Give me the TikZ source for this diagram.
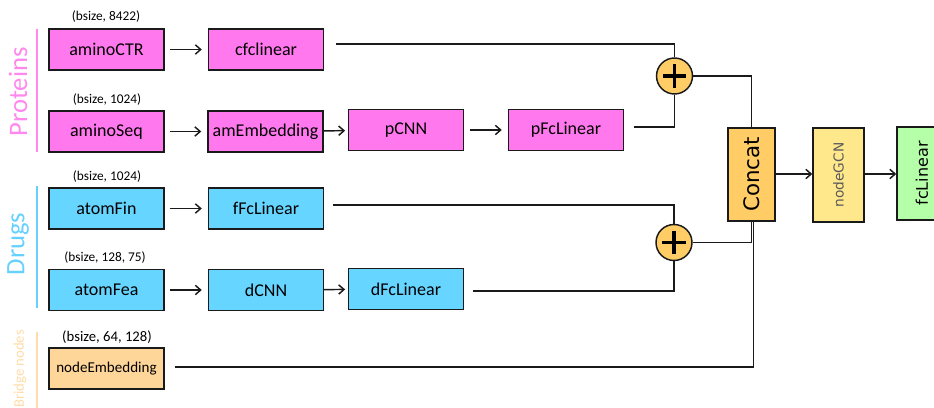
\documentclass[tikz,border=0pt]{standalone}
\usepackage{fontspec}
\setmainfont{Carlito}
\newfontfamily\dejavu{DejaVu Sans}
\usetikzlibrary{calc,arrows.meta}
\definecolor{pinkbox}{HTML}{FF78EE}
\definecolor{bluebox}{HTML}{66D5FF}
\definecolor{embbox}{HTML}{FFD699}
\definecolor{concatc}{HTML}{FFCC66}
\definecolor{gcnc}{HTML}{FFE88C}
\definecolor{fcc}{HTML}{B5FFA8}
\definecolor{protc}{HTML}{FF88EE}
\definecolor{drugc}{HTML}{66D0FF}
\definecolor{bridgec}{HTML}{FFDCA8}
\definecolor{edgec}{HTML}{1A1A1A}
\tikzset{
  box/.style={draw=edgec, line width=1.1pt, minimum width=86.25pt, minimum height=30.75pt, inner sep=0pt, font=\fontsize{13.5}{15}\selectfont},
  pbox/.style={box, fill=pinkbox},
  bbox/.style={box, fill=bluebox},
  shape lbl/.style={font=\fontsize{10}{12}\selectfont, inner sep=0pt},
  conn/.style={draw=edgec, line width=1.1pt},
  arr/.style={conn, -{Straight Barb[length=4pt,width=7pt,line width=1.1pt]}},
  plusc/.style={circle, draw=edgec, line width=1.1pt, fill=concatc, minimum size=27pt, inner sep=0pt,
    path picture={\draw[line width=2.6pt, black] ($(path picture bounding box.center)+(-8.7pt,0)$) -- ($(path picture bounding box.center)+(8.7pt,0)$);
                  \draw[line width=2.6pt, black] ($(path picture bounding box.center)+(0,-8.7pt)$) -- ($(path picture bounding box.center)+(0,8.7pt)$);}},
  sidelbl/.style={rotate=90, inner sep=0pt, font=\fontsize{20}{24}\selectfont},
  sideline/.style={line width=1.2pt}
}
\begin{document}
\begin{tikzpicture}[x=0.75pt,y=-0.75pt]
\useasboundingbox (0,0) rectangle (934,407);
\clip (0,0) rectangle (934,407);
% side labels
\node[sidelbl, text=protc] (protl) at (18,92) {Proteins};
\draw[sideline, protc] (37,29) coordinate (pl1) -- (37,152) coordinate (pl2);
\node[sidelbl, text=drugc] (drugl) at (18,244) {Drugs};
\draw[sideline, drugc] (37,186) coordinate (dl1) -- (37,308) coordinate (dl2);
\node[rotate=90, inner sep=0pt, font=\fontsize{11}{13}\selectfont, text=bridgec] (bridl) at (20,369) {Bridge nodes};
\draw[sideline, bridgec] (37,332) coordinate (bl1) -- (37,410) coordinate (bl2);
% shape labels
\node[shape lbl] (s1) at (106,17) {(bsize, 8422)};
\node[shape lbl] (s2) at (107,100) {(bsize, 1024)};
\node[shape lbl] (s3) at (107,177) {(bsize, 1024)};
\node[shape lbl] (s4) at (105,258) {(bsize, 128, 75)};
\node[shape lbl, font=\fontsize{11}{13}\selectfont] (s5) at (107,337) {(bsize, 64, 128)};
% boxes
\node[pbox] (aminoCTR) at (106.5,49.5) {aminoCTR};
\node[pbox] (cfclinear) at (266,49.5) {cfclinear};
\node[pbox] (aminoSeq) at (106.5,131.5) {aminoSeq};
\node[pbox] (amEmb) at (265.5,131.5) {amEmbedding};
\node[pbox] (pCNN) at (406,130) {pCNN};
\node[pbox] (pFc) at (566,130) {pFcLinear};
\node[bbox] (atomFin) at (106.5,208.5) {atomFin};
\node[bbox] (fFc) at (266,208.5) {fFcLinear};
\node[bbox] (atomFea) at (106.5,290) {atomFea};
\node[bbox] (dCNN) at (266,290) {dCNN};
\node[bbox] (dFc) at (406,289) {dFcLinear};
\node[box, fill=embbox, font=\fontsize{11.3}{13}\selectfont] (nodeEmb) at (106.5,368.5) {nodeEmbedding};
\node[box, fill=concatc, minimum width=35.25pt, minimum height=69.75pt] (concat) at (751.5,174.5) {};
\node[rotate=90, font=\dejavu\fontsize{16}{19}\selectfont, inner sep=0pt] (concatt) at (concat.center) {Concat};
\node[box, fill=gcnc, minimum width=38.25pt, minimum height=70.5pt] (gcn) at (838.5,175) {};
\node[rotate=90, font=\dejavu\fontsize{10.3}{12}\selectfont, text=black!65, inner sep=0pt] (gcnt) at (gcn.center) {nodeGCN};
\node[box, fill=fcc, minimum width=37.5pt, minimum height=69.75pt] (fcl) at (922,173.5) {};
\node[rotate=90, font=\dejavu\fontsize{12}{14}\selectfont, inner sep=0pt] (fclt) at (fcl.center) {fcLinear};
% plus nodes
\node[plusc] (p1) at (674.5,76) {};
\node[plusc] (p2) at (674,242.5) {};
% arrows
\draw[arr, shorten <=3.75pt, shorten >=4.5pt] (aminoCTR) -- (cfclinear);
\draw[arr, shorten <=3.75pt, shorten >=4.5pt] (aminoSeq) -- (amEmb);
\draw[arr, shorten >=2pt] (amEmb) -- (pCNN);
\draw[arr, shorten <=4.5pt, shorten >=4.5pt] (pCNN) -- (pFc);
\draw[arr, shorten <=3.75pt, shorten >=4.5pt] (atomFin) -- (fFc);
\draw[arr, shorten <=3.75pt, shorten >=4.5pt] (atomFea) -- (dCNN);
\draw[arr, shorten >=2pt] (dCNN) -- (dFc);
\draw[arr] (concat.east |- 0,174) -- (gcn.west |- 0,174);
\draw[arr] (gcn.east |- 0,174) -- (fcl.west |- 0,174);
% merge connectors
\draw[conn] ($(cfclinear.east)+(12,-5.5)$) -| (p1.north);
\draw[conn] ($(pFc.east)+(10,-3)$) -| (p1.south);
\draw[conn] (p1.east) -| (concat.north);
\draw[conn] ($(fFc.east)+(9,-3.5)$) -| (p2.north);
\draw[conn] ($(dFc.east)+(9,2)$) -| (p2.south);
\draw[conn] (p2.east) -| (concat.south);
\draw[conn] ($(nodeEmb.east)+(10,-1.5)$) -| ($(concat.south)+(2,0)$);
\end{tikzpicture}
\end{document}
